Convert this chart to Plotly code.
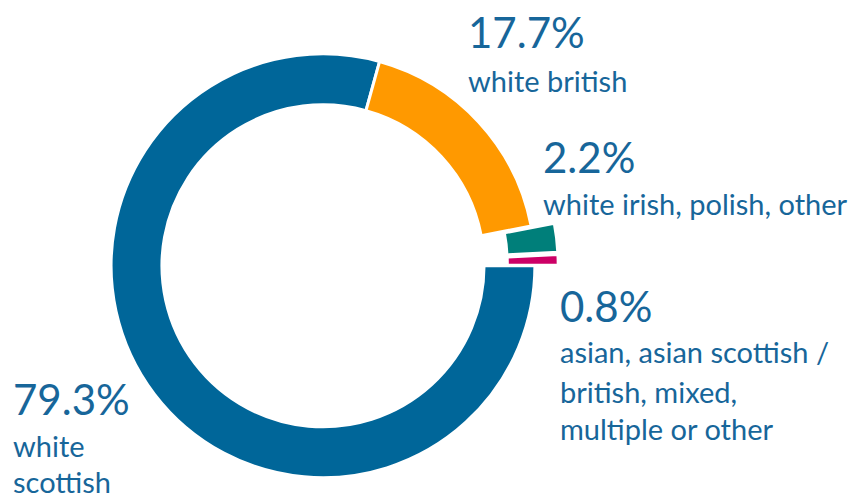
import plotly.graph_objects as go

# page is 863x501; browser body has an 8px margin, so the figure is 855x493
PAGE_W, PAGE_H = 863, 501
OFF = 8
W, H = PAGE_W - OFF, PAGE_H - OFF

categories = ["white scottish", "white british", "white irish, polish, other",
              "asian, asian scottish / british, mixed, multiple or other"]
values = [79.3, 17.7, 2.2, 0.8]
colors = ["#006699", "#FF9900", "#007F7A", "#CC0066"]
pulls = [0, 0, 0.11, 0.11]

pct_labels = ["79.3%", "17.7%", "2.2%", "0.8%"]
desc_lines = [["white", "scottish"],
              ["white british"],
              ["white irish, polish, other"],
              ["asian, asian scottish /", "british, mixed,", "multiple or other"]]

# label positions in page pixels: left x, pct baseline, desc baselines
label_pos = [
    (11, 415, [457, 493]),
    (466, 48, [92]),
    (541, 173, [215]),
    (558, 322, [363, 403, 440]),
]

TXT = "#17669A"
FONT = "Lato"
PCT_SIZE = 42
DESC_SIZE = 29

def px(x):
    return (x - OFF) / W

def py(y):
    return 1 - (y - OFF) / H

clamp = lambda v: min(1, max(0, v))

fig = go.Figure()

# donut geometry (page pixels)
cx, cy, r = 323, 267, 213
ext = r * (1 + max(pulls))
fig.add_trace(go.Pie(
    labels=categories, values=values, sort=False, direction="clockwise",
    rotation=90, hole=0.76, pull=pulls,
    marker=dict(colors=colors, line=dict(color="white", width=3)),
    textinfo="none", hoverinfo="label+percent", showlegend=False,
    domain=dict(x=[clamp(px(cx - ext)), clamp(px(cx + ext))],
                y=[clamp(py(cy + ext)), clamp(py(cy - ext))]),
))

def add_line(text, x, baseline, size):
    ymid = baseline - 0.39 * size
    fig.add_annotation(text=text, x=px(x), y=py(ymid), xref="paper", yref="paper",
                       xanchor="left", yanchor="middle", showarrow=False,
                       font=dict(family=FONT, size=size, color=TXT))

for pct, lines, (lx, pb, dbs) in zip(pct_labels, desc_lines, label_pos):
    add_line(pct, lx, pb, PCT_SIZE)
    for t, b in zip(lines, dbs):
        add_line(t, lx, b, DESC_SIZE)

fig.update_layout(width=W, height=H, margin=dict(l=0, r=0, t=0, b=0),
                  paper_bgcolor="white", plot_bgcolor="white")

fig.write_html("out.html")
